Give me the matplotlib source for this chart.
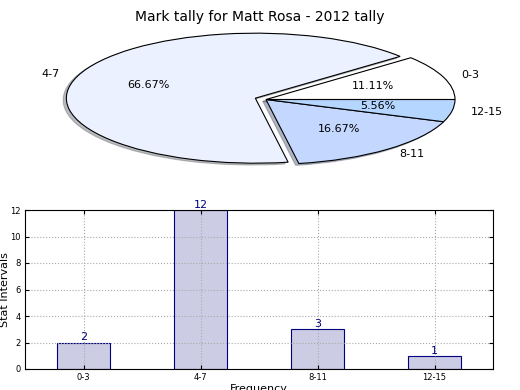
import numpy as np
import matplotlib
matplotlib.use('Agg')
import matplotlib.pyplot as plt

labels = ['0-3', '4-7', '8-11', '12-15']
counts = [2, 12, 3, 1]
pie_colors = ['#ffffff', '#ebf1fe', '#c3d7ff', '#b4d6ff']
explode = [0, 0.06, 0, 0]

fig = plt.figure(figsize=(5.2, 3.9), dpi=100)

# pie on top, stretched (aspect not equal)
ax1 = fig.add_axes([29.75 / 520, 0.5365, 472.5 / 520, 162.5 / 390])
wedges, texts, autotexts = ax1.pie(counts, labels=labels, colors=pie_colors,
                                   explode=explode, autopct='%1.2f%%',
                                   shadow={'ox': -0.012, 'oy': -0.02, 'shade': 0.5},
                                   wedgeprops={'edgecolor': 'black', 'linewidth': 0.8},
                                   textprops={'fontsize': 8})
ax1.set_aspect('auto')
ax1.set_xlim(-1.25, 1.25)
ax1.set_ylim(-1.25, 1.25)
fig.text(0.5, 0.975, 'Mark tally for Matt Rosa - 2012 tally', ha='center', va='top', fontsize=10)

# bar chart below
ax2 = fig.add_axes([25 / 520, 21 / 390, 468 / 520, 159 / 390])
x = np.arange(len(labels))
bars = ax2.bar(x, counts, width=0.45, color='#ccccE4', edgecolor='navy', linewidth=0.8)
for xi, c in zip(x, counts):
    ax2.text(xi, c, str(c), ha='center', va='bottom', color='navy', fontsize=8)
ax2.set_xlim(-0.5, 3.5)
ax2.set_ylim(0, 12)
ax2.set_yticks(range(0, 13, 2))
ax2.set_xticks(x)
ax2.set_xticklabels(labels)
ax2.tick_params(direction='in', top=True, right=True, labelsize=6, length=3, pad=3)
ax2.grid(True, linestyle=':', color='#aaaaaa', linewidth=0.8)
ax2.set_xlabel('Frequency', fontsize=8, labelpad=1)
ax2.set_ylabel('Stat Intervals', fontsize=8, labelpad=0.5)

fig.savefig('out.png', dpi=100)
